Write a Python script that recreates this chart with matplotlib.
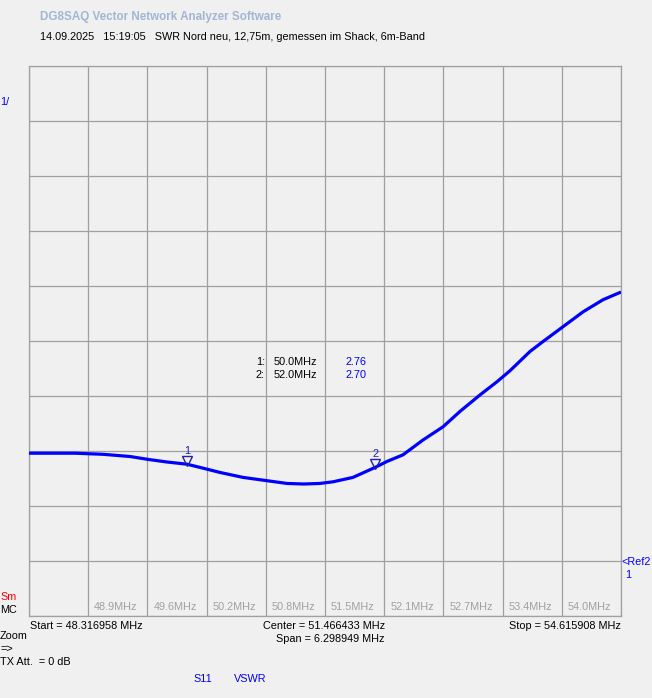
import numpy as np
import matplotlib
matplotlib.use("Agg")
import matplotlib.pyplot as plt
from matplotlib.transforms import offset_copy

# sweep data (MHz, VSWR)
freq = [48.317, 48.806, 49.104, 49.392, 49.573, 49.785, 49.998, 50.211, 50.349,
        50.594, 50.849, 51.062, 51.240, 51.413, 51.552, 51.764, 51.998, 52.126,
        52.296, 52.509, 52.722, 52.903, 53.116, 53.297, 53.435, 53.648, 53.786,
        53.999, 54.212, 54.424, 54.616]
vswr = [2.96, 2.96, 2.94, 2.90, 2.85, 2.80, 2.76, 2.67, 2.61,
        2.52, 2.46, 2.41, 2.40, 2.41, 2.44, 2.52, 2.70, 2.81,
        2.93, 3.20, 3.44, 3.72, 4.02, 4.26, 4.46, 4.81, 4.99,
        5.26, 5.53, 5.75, 5.89]

f_start = 48.316958
f_stop = 54.615908
f_center = 51.466433
f_span = 6.298949

marker_freq = [50.0, 52.0]
marker_val = [2.76, 2.70]
marker_lbl = ['1', '2']

tick_labels = ['48.9MHz', '49.6MHz', '50.2MHz', '50.8MHz', '51.5MHz',
               '52.1MHz', '52.7MHz', '53.4MHz', '54.0MHz']

W, H = 652, 698
bg = '#F0F0F0'
grid_c = '#A0A0A0'
blue = '#0000FF'
plt.rcParams['font.family'] = ['Liberation Sans', 'DejaVu Sans']
fs = 7.8

fig = plt.figure(figsize=(W / 100, H / 100), dpi=100, facecolor=bg)
ax = fig.add_axes([29 / W, (H - 616) / H, 592 / W, 550 / H], facecolor=bg)

def px(x, y):
    return x / W, 1 - y / H

ax.set_xlim(f_start, f_stop)
ax.set_ylim(0, 10)
ax.set_xticks(np.linspace(f_start, f_stop, 11))
ax.set_yticks(np.arange(0, 11))
ax.tick_params(length=0, labelbottom=False, labelleft=False)
ax.grid(True, color=grid_c, lw=0.9)
for s in ax.spines.values():
    s.set_color(grid_c)
    s.set_linewidth(0.9)

ax.plot(freq, vswr, color=blue, lw=2.3, solid_capstyle='butt', zorder=3)

# markers: open triangles with tip on the trace, number above
tri = offset_copy(ax.transData, fig=fig, x=0, y=3.5, units='dots')
mark_f = np.interp(marker_freq, freq, vswr)
for f, v, lb in zip(marker_freq, mark_f, marker_lbl):
    ax.plot([f], [v], marker='v', ms=7, mfc='none', mec='#2020B0', mew=1,
            transform=tri, zorder=4)
    ax.annotate(lb, (f, v), xytext=(0, 8), textcoords='offset pixels',
                ha='center', va='bottom', fontsize=fs, color='#2020B0', zorder=4)

# marker readout table
for i, (f, v, lb) in enumerate(zip(marker_freq, marker_val, marker_lbl)):
    y = 362 + i * 13
    fig.text(*px(265, y), lb + ':', ha='right', va='center', fontsize=fs)
    fig.text(*px(274, y), '%.1fMHz' % f, ha='left', va='center', fontsize=fs)
    fig.text(*px(345, y), '%.2f' % v, ha='left', va='center', fontsize=fs, color=blue)

# frequency labels inside the bottom of the grid
tick_f = np.linspace(f_start, f_stop, 11)[1:10]
for f, lb in zip(tick_f, tick_labels):
    ax.annotate(lb, (f, 0), xytext=(6, 9), textcoords='offset pixels',
                ha='left', va='center', fontsize=fs, color=grid_c)

# header
fig.text(*px(40, 17), 'DG8SAQ Vector Network Analyzer Software', ha='left', va='center',
         fontsize=8.4, fontweight='bold', color='#A2B6D4')
fig.text(*px(40, 37), '14.09.2025   15:19:05   SWR Nord neu, 12,75m, gemessen im Shack, 6m-Band',
         ha='left', va='center', fontsize=fs)

# left side labels
fig.text(*px(0, 102), '1/', ha='left', va='center', fontsize=fs, color=blue)
fig.text(*px(0, 597), 'Sm', ha='left', va='center', fontsize=fs, color='#FF0000')
fig.text(*px(0, 610), 'MC', ha='left', va='center', fontsize=fs)
fig.text(*px(0, 636), 'Zoom', ha='left', va='center', fontsize=fs)
fig.text(*px(0, 649), '=>', ha='left', va='center', fontsize=fs)
fig.text(*px(0, 662), 'TX Att.  = 0 dB', ha='left', va='center', fontsize=fs)

# reference marker on the right
fig.text(*px(622, 562), '<Ref2', ha='left', va='center', fontsize=fs, color=blue)
fig.text(*px(625, 575), '1', ha='left', va='center', fontsize=fs, color=blue)

# sweep info
fig.text(*px(30, 626), 'Start = %.6f MHz' % f_start, ha='left', va='center', fontsize=fs)
fig.text(*px(385, 626), 'Center = %.6f MHz' % f_center, ha='right', va='center', fontsize=fs)
fig.text(*px(385, 639), 'Span = %.6f MHz' % f_span, ha='right', va='center', fontsize=fs)
fig.text(*px(621, 626), 'Stop = %.6f MHz' % f_stop, ha='right', va='center', fontsize=fs)

fig.text(*px(193, 679), 'S11', ha='left', va='center', fontsize=fs, color=blue)
fig.text(*px(234, 679), 'VSWR', ha='left', va='center', fontsize=fs, color=blue)

fig.savefig('out.png', dpi=100, facecolor=bg)
